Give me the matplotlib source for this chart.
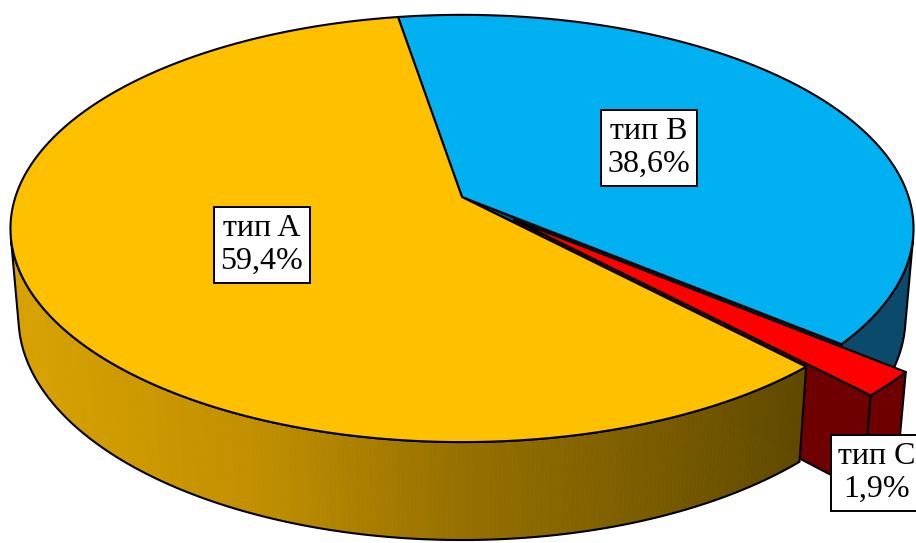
import numpy as np
import matplotlib.pyplot as plt
from matplotlib.patches import Polygon
from matplotlib.colors import to_rgb

labels = ['тип A', 'тип B', 'тип C']
shares = [59.4, 38.6, 1.9]
top_colors = ['#FFC000', '#00B0F0', '#FF0000']
side_colors = ['#A07A00', '#0B4A6A', '#6E0000']
explode = [0.0, 0.0, 0.157]
label_pos = [(262, 245), (649, 148), (877, 473)]

# градиент боковой стенки сектора A (по экранной координате x)
grad_x = [10, 250, 450, 650, 810]
grad_c = ['#D8A300', '#C29000', '#987200', '#7A5C00', '#5E4800']

# геометрия "объёмного" круга
start_angle = 136.5      # начало сектора A, по часовой от 12 часов
cx, cy = 462, 197        # куда проецируется центр круга
R = 446.6
depth = 0.227
tilt = np.radians(27.9)
cam = 6.0

# видимая часть боковой стенки (по часовой от 12 часов)
t_sil = np.degrees(np.arccos(-1 / (cam * np.cos(tilt))))
vis_lo, vis_hi = t_sil, 360 - t_sil


def project(X, Y, h=0.0):
    # X вправо, Y вглубь (вид сверху), h высота
    z = -np.asarray(Y, dtype=float)
    v = h * np.cos(tilt) - z * np.sin(tilt)
    w = h * np.sin(tilt) + z * np.cos(tilt)
    s = cam / (cam - w)
    return np.column_stack([cx + R * np.asarray(X) * s, cy - R * v * s])


fr = np.array(shares) / sum(shares)
t_start = start_angle + 360 * np.concatenate([[0], np.cumsum(fr)[:-1]])
t_end = t_start + 360 * fr
offsets = []
for i in range(len(shares)):
    mid = np.radians((t_start[i] + t_end[i]) / 2)
    offsets.append((explode[i] * np.sin(mid), explode[i] * np.cos(mid)))


def arc(i, h, t0, t1, n=240):
    t = np.radians(np.linspace(t0, t1, n))
    ox, oy = offsets[i]
    return project(ox + np.sin(t), oy + np.cos(t), h)


def radial(i, ang):
    ox, oy = offsets[i]
    a = np.radians(ang)
    X = [ox, ox + np.sin(a)]
    Y = [oy, oy + np.cos(a)]
    top = project(X, Y, 0)
    bot = project(X, Y, -depth)
    return np.vstack([top, bot[::-1]])


def visible_range(i):
    for k in (-1, 0, 1, 2):
        lo = max(t_start[i], vis_lo + 360 * k)
        hi = min(t_end[i], vis_hi + 360 * k)
        if hi > lo:
            return lo, hi
    return None


def grad_color(x):
    rgb = np.array([to_rgb(c) for c in grad_c])
    return [np.interp(x, grad_x, rgb[:, k]) for k in range(3)]


fig = plt.figure(figsize=(9.16, 5.43), dpi=100)
ax = fig.add_axes([0, 0, 1, 1])
ax.set_xlim(0, 916)
ax.set_ylim(543, 0)
ax.axis('off')

edge = dict(edgecolor='black', linewidth=1.5, joinstyle='round')

# порядок отрисовки: B, C, затем A (A ближе всего к зрителю)
for i in [1, 2, 0]:
    # радиальные грани, повернутые к зрителю
    for ang, sign in [(t_start[i], -1), (t_end[i], 1)]:
        a = np.radians(ang)
        if np.sin(a) * sign > 0:
            ax.add_patch(Polygon(radial(i, ang), facecolor=side_colors[i], **edge))

    rng = visible_range(i)
    if rng is not None:
        top = arc(i, 0, *rng)
        bot = arc(i, -depth, *rng)
        outline = np.vstack([top, bot[::-1]])
        if i == 0:
            for j in range(len(top) - 1):
                quad = np.array([top[j], top[j + 1], bot[j + 1], bot[j]])
                col = grad_color(quad[:, 0].mean())
                ax.add_patch(Polygon(quad, facecolor=col, edgecolor=col, linewidth=0.6))
            ax.add_patch(Polygon(outline, facecolor='none', **edge))
        else:
            ax.add_patch(Polygon(outline, facecolor=side_colors[i], **edge))

    ox, oy = offsets[i]
    centre = project([ox], [oy], 0)
    rim = arc(i, 0, t_start[i], t_end[i])
    ax.add_patch(Polygon(np.vstack([centre, rim]), facecolor=top_colors[i], **edge))

for lab, val, (x, y) in zip(labels, shares, label_pos):
    txt = f"{lab}\n{val:.1f}%".replace('.', ',')
    ax.text(x, y, txt, ha='center', va='center', fontsize=23,
            family='Liberation Serif', linespacing=1.18,
            bbox=dict(boxstyle='square,pad=0.22', fc='white', ec='black', lw=1.4))

fig.savefig('out.png', dpi=100)
